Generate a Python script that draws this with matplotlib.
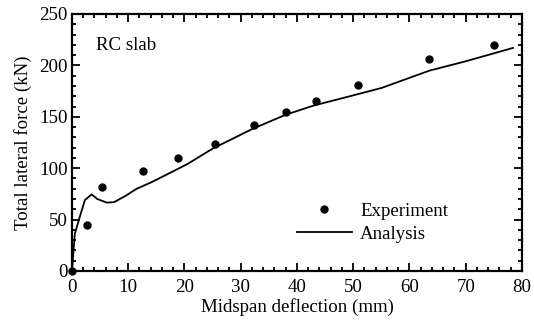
import numpy as np
import matplotlib
matplotlib.use("Agg")
import matplotlib.pyplot as plt
from matplotlib.ticker import MultipleLocator

# experiment points (mm, kN)
exp_x = [0.0, 2.7, 5.3, 12.7, 18.8, 25.4, 32.4, 38.0, 43.3, 50.8, 63.5, 75.0]
exp_y = [0.0, 44.5, 82.0, 97.6, 110.2, 123.8, 141.7, 155.0, 165.0, 180.5, 206.0, 220.0]

# analysis curve
ana_x = [0.0, 0.5, 1.4, 2.3, 3.5, 4.5, 6.2, 7.5, 9.5, 11.5, 14.0, 18.0, 20.5,
         25.0, 32.0, 38.0, 43.0, 48.0, 55.0, 63.6, 70.0, 78.4]
ana_y = [0.0, 36.0, 53.0, 69.0, 74.5, 70.0, 66.5, 67.0, 73.0, 80.0, 86.0, 97.0, 104.0,
         119.0, 138.0, 152.0, 161.0, 168.0, 178.0, 195.0, 204.0, 217.0]

FS = 13.6
plt.rcParams["font.family"] = ["Liberation Serif", "DejaVu Serif"]
plt.rcParams["font.size"] = FS

fig = plt.figure(figsize=(5.34, 3.27), dpi=100)
ax = fig.add_axes([0.1348, 0.1713, 0.8427, 0.7859])

ax.plot(exp_x, exp_y, "o", color="black", markersize=5, linestyle="none",
        label="Experiment", clip_on=False, zorder=3)
ax.plot(ana_x, ana_y, "-", color="black", linewidth=1.3, label="Analysis")

ax.set_xlim(0, 80)
ax.set_ylim(0, 250)
ax.xaxis.set_major_locator(MultipleLocator(10))
ax.xaxis.set_minor_locator(MultipleLocator(2))
ax.yaxis.set_major_locator(MultipleLocator(50))
ax.yaxis.set_minor_locator(MultipleLocator(10))
ax.tick_params(which="both", direction="in", top=True, right=True, width=1.3, pad=3)
ax.tick_params(axis="x", pad=6)
ax.tick_params(which="major", length=6)
ax.tick_params(which="minor", length=3)
for s in ax.spines.values():
    s.set_linewidth(1.6)

ax.set_xlabel("Midspan deflection (mm)", labelpad=1)
ax.set_ylabel("Total lateral force (kN)", labelpad=5)
ax.text(0.053, 0.879, "RC slab", transform=ax.transAxes, va="center", ha="left", fontsize=FS)

ax.legend(loc="lower left", bbox_to_anchor=(0.50, 0.11), frameon=False,
          handlelength=2.9, handletextpad=0.45, labelspacing=0.3, borderpad=0,
          borderaxespad=0, numpoints=1, fontsize=FS)

fig.savefig("out.png", dpi=100)
